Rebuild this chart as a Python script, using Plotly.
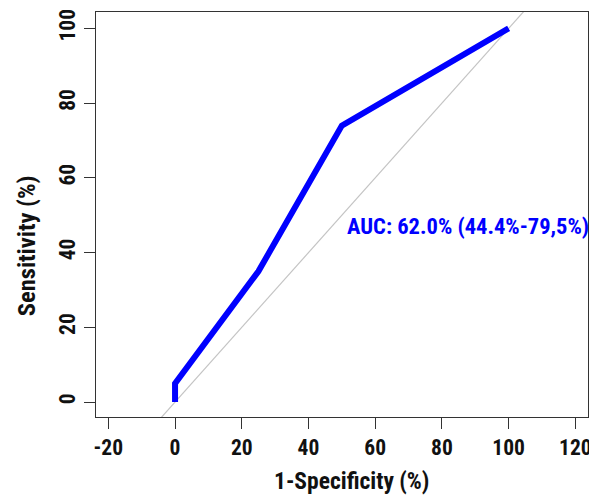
import plotly.graph_objects as go

# ROC curve data (percent)
fpr = [0, 0, 25, 50, 100]          # 1-Specificity (%)
tpr = [0, 5, 35, 74, 100]          # Sensitivity (%)
diag_ref = [-10, 110]              # chance line y = x
x_ticks = [-20, 0, 20, 40, 60, 80, 100, 120]
y_ticks = [0, 20, 40, 60, 80, 100]
auc_label = "AUC: 62.0% (44.4%-79,5%)"

FONT = "Roboto Condensed, Liberation Sans Narrow, Roboto, sans-serif"

fig = go.Figure()
fig.add_shape(type="line", xref="x", yref="y",
              x0=diag_ref[0], y0=diag_ref[0], x1=diag_ref[1], y1=diag_ref[1],
              line=dict(color="#c4c4c4", width=1.2), layer="below")
fig.add_trace(go.Scatter(x=fpr, y=tpr, mode="lines",
                         line=dict(color="#0000ff", width=6), showlegend=False))

fig.add_annotation(x=51, y=47, xref="x", yref="y", text="<b>" + auc_label + "</b>",
                   showarrow=False, xanchor="left", yanchor="middle",
                   font=dict(family=FONT, size=22.5, color="#0000ff"))

fig.add_annotation(x=0.52, y=-0.158, xref="paper", yref="paper",
                   text="<b>1-Specificity (%)</b>", showarrow=False,
                   xanchor="center", yanchor="middle",
                   font=dict(family=FONT, size=23.5, color="#111111"))
fig.add_annotation(x=-0.142, y=0.422, xref="paper", yref="paper",
                   text="<b>Sensitivity (%)</b>", showarrow=False, textangle=-90,
                   xanchor="center", yanchor="middle",
                   font=dict(family=FONT, size=24.5, color="#111111"))

axis_common = dict(showgrid=False, zeroline=False, showline=True, mirror=True,
                   linecolor="#333333", linewidth=1.3, ticks="outside",
                   ticklen=11, tickcolor="#333333", tickwidth=1.3, automargin=False,
                   ticklabeloverflow="allow",
                   tickfont=dict(family=FONT, size=21.5, color="#111111"))

fig.update_xaxes(range=[-23.7, 123.8], tickvals=x_ticks,
                 ticktext=["<b>%d</b>" % v for v in x_ticks], **axis_common)
fig.update_yaxes(range=[-4.0, 104.4], tickvals=y_ticks, tickangle=-90,
                 ticktext=["<b>%d</b>" % v for v in y_ticks], **axis_common)

# page body has an 8px default margin, so the figure is sized to end at 597x495
fig.update_layout(width=589, height=487, margin=dict(l=88, r=9, t=4, b=78),
                  plot_bgcolor="white", paper_bgcolor="white")

fig.write_html("out.html")
